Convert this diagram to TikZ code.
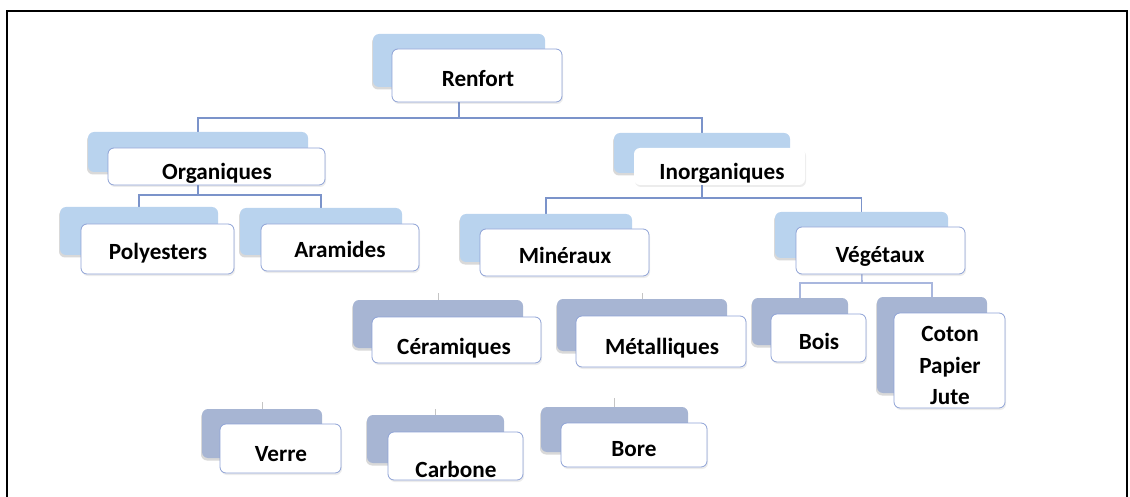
\documentclass[tikz,border=0pt]{standalone}
\usepackage{fontspec}
\setmainfont{Carlito}
\usetikzlibrary{shadows,backgrounds}
\definecolor{backA}{HTML}{B9D3EE}
\definecolor{backB}{HTML}{A7B5D3}
\definecolor{edgeF}{HTML}{8EA2D6}
\definecolor{conn}{HTML}{7B93CA}
\definecolor{connL}{HTML}{A9B7DE}
\definecolor{stubc}{HTML}{C4C4C4}
\tikzset{
  backbox/.style={rectangle, rounded corners=6pt, inner sep=0pt, draw=none,
    drop shadow={shadow xshift=-1pt, shadow yshift=-2.5pt, opacity=0.25, fill=black!60}},
  upback/.style={backbox, fill=backA},
  lowback/.style={backbox, fill=backB},
  frontbox/.style={rectangle, rounded corners=6pt, inner sep=0pt, fill=white, draw=edgeF, line width=0.8pt,
    drop shadow={shadow xshift=1pt, shadow yshift=-2pt, opacity=0.15, fill=black!50}},
  txt/.style={inner sep=0pt, font=\fontsize{23.2}{31.5}\selectfont\bfseries, text=black},
  connline/.style={draw=conn, line width=1.6pt},
  connlight/.style={draw=connL, line width=1.6pt},
  stubline/.style={draw=stubc, line width=1pt},
  frameline/.style={draw=black, line width=2.2pt}
}
\begin{document}
\begin{tikzpicture}[x=1pt,y=-1pt]
\useasboundingbox (0,0) rectangle (1130,497);
\draw[frameline] (7,500) -- (7,11) -- (1127,11) -- (1127,500);

% back boxes
\node[upback, minimum width=172pt, minimum height=53pt] (renB) at (459,60.5) {};
\node[upback, minimum width=220pt, minimum height=40pt] (orgB) at (198,152) {};
\node[upback, minimum width=176pt, minimum height=40pt] (inoB) at (702,153) {};
\node[upback, minimum width=158pt, minimum height=48pt] (polB) at (139,231) {};
\node[upback, minimum width=162pt, minimum height=47pt] (araB) at (321,231.5) {};
\node[upback, minimum width=172pt, minimum height=48pt] (minB) at (546,238) {};
\node[upback, minimum width=173pt, minimum height=46pt] (vegB) at (861.5,235) {};
\node[lowback, minimum width=170pt, minimum height=48pt] (cerB) at (438,324) {};
\node[lowback, minimum width=170pt, minimum height=52pt] (metB) at (642,325) {};
\node[lowback, minimum width=96pt, minimum height=47pt] (boiB) at (800,321.5) {};
\node[lowback, minimum width=110pt, minimum height=96pt] (cotB) at (932,345) {};
\node[lowback, minimum width=120pt, minimum height=49pt] (verB) at (262,433.5) {};
\node[lowback, minimum width=137pt, minimum height=48pt] (carB) at (435.5,439) {};
\node[lowback, minimum width=147pt, minimum height=45pt] (borB) at (614.5,429.5) {};

% front boxes
\node[frontbox, minimum width=170pt, minimum height=53pt] (ren) at (477,75.5) {};
\node[frontbox, minimum width=217pt, minimum height=37pt] (org) at (216.5,166.5) {};
\node[frontbox, draw=none, minimum width=171pt, minimum height=37pt] (ino) at (719.5,166.5) {};
\node[frontbox, minimum width=153pt, minimum height=50pt] (pol) at (157.5,249) {};
\node[frontbox, minimum width=158pt, minimum height=47pt] (ara) at (340,247.5) {};
\node[frontbox, minimum width=169pt, minimum height=47pt] (min) at (564.5,252.5) {};
\node[frontbox, minimum width=169pt, minimum height=47pt] (veg) at (880.5,250.5) {};
\node[frontbox, minimum width=169pt, minimum height=46pt] (cer) at (456.5,340) {};
\node[frontbox, minimum width=170pt, minimum height=51pt] (met) at (661,341.5) {};
\node[frontbox, minimum width=95pt, minimum height=48pt] (boi) at (818.5,338) {};
\node[frontbox, minimum width=111pt, minimum height=95pt] (cot) at (949.5,360.5) {};
\node[frontbox, minimum width=121pt, minimum height=49pt] (ver) at (280.5,448.5) {};
\node[frontbox, minimum width=135pt, minimum height=48pt] (car) at (455.5,456) {};
\node[frontbox, minimum width=146pt, minimum height=44pt] (bor) at (634,445) {};

% texts
\node[txt, anchor=base] (renT) at (478,87) {Renfort};
\node[txt, anchor=base] (orgT) at (217,180) {Organiques};
\node[txt, anchor=base] (inoT) at (722,180) {Inorganiques};
\node[txt, anchor=base] (polT) at (158,259) {Polyesters};
\node[txt, anchor=base] (araT) at (340,258) {Aramides};
\node[txt, anchor=base] (minT) at (565,264) {Minéraux};
\node[txt, anchor=base] (vegT) at (880,262) {Végétaux};
\node[txt, anchor=base] (cerT) at (454,354) {Céramiques};
\node[txt, anchor=base] (metT) at (662,354) {Métalliques};
\node[txt, anchor=base] (boiT) at (819,349) {Bois};
\node[txt, anchor=base] (cotT1) at (950,341) {Coton};
\node[txt, anchor=base] (cotT2) at (950,373) {Papier};
\node[txt, anchor=base] (cotT3) at (950,404) {Jute};
\node[txt, anchor=base] (verT) at (281,461) {Verre};
\node[txt, anchor=base] (carT) at (456,477) {Carbone};
\node[txt, anchor=base] (borT) at (634,456) {Bore};

% junctions and stubs
\coordinate (renJ) at (459,118);
\coordinate (orgJ) at (198,195);
\coordinate (inoJ) at (702,198);
\coordinate (vegJ) at (862,283);
\coordinate (cerS) at (438,293);
\coordinate (metS) at (642,293);
\coordinate (verS) at (262,402);
\coordinate (carS) at (435.5,409);
\coordinate (borS) at (614.5,398);

\begin{pgfonlayer}{background}
\draw[connline] (renB.south) -- (renJ) -| (orgB.north);
\draw[connline] (renJ) -| (inoB.north);
\draw[connline] (orgB.south) -- (orgJ) -| (polB.north);
\draw[connline] (orgJ) -| (araB.north);
\draw[connline] (inoB.south) -- (inoJ) -| (minB.north);
\draw[connline] (inoJ) -| (vegB.north);
\draw[connlight] (vegB.south) -- (vegJ) -| (boiB.north);
\draw[connlight] (vegJ) -| (cotB.north);
\draw[stubline] (cerS) -- (cerB.north);
\draw[stubline] (metS) -- (metB.north);
\draw[stubline] (verS) -- (verB.north);
\draw[stubline] (carS) -- (carB.north);
\draw[stubline] (borS) -- (borB.north);
\end{pgfonlayer}
\end{tikzpicture}
\end{document}
